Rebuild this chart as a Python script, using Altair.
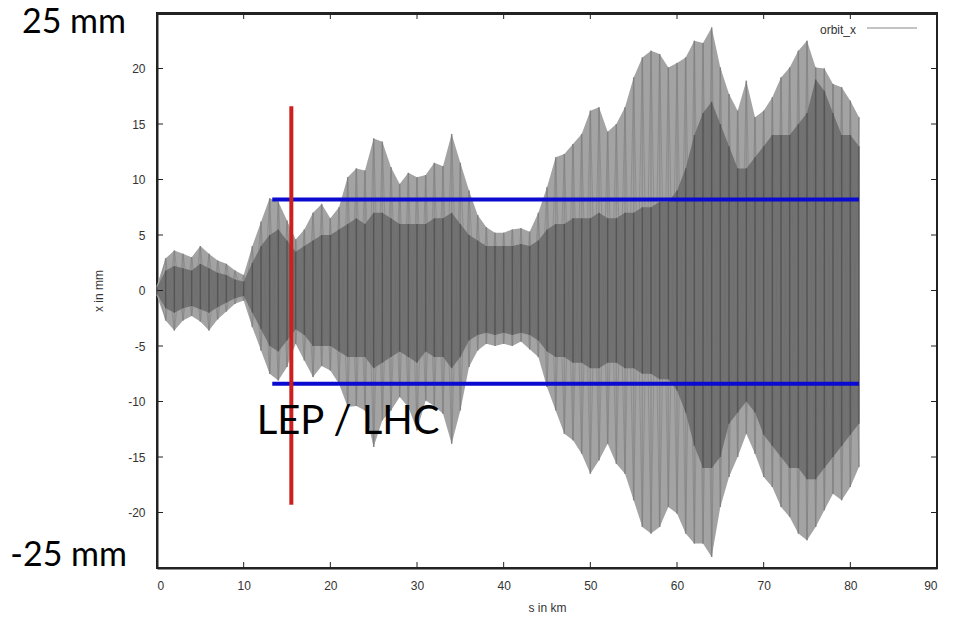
import altair as alt
import pandas as pd

# ---- data ----
s_km = list(range(82))
orbit_hi = [0.5, 2.9, 3.6, 3.3, 3.0, 4.0, 3.3, 2.7, 2.4, 1.8, 1.4,
            4.0, 6.2, 8.3, 8.0, 6.3, 4.6, 5.5, 7.0, 7.8, 6.5,
            7.5, 10.2, 11.0, 10.8, 13.7, 13.4, 11.1, 9.6, 10.6, 10.2,
            10.4, 11.5, 11.2, 14.1, 11.5, 9.0, 6.8, 5.7, 5.2, 5.2,
            5.5, 5.6, 5.3, 7.0, 9.3, 12.0, 12.3, 13.2, 14.1, 16.2,
            16.5, 14.3, 15.0, 16.5, 19.2, 21.0, 21.6, 21.3, 20.1, 20.5,
            21.0, 22.5, 22.3, 23.7, 20.1, 17.7, 16.2, 18.9, 15.6, 16.2,
            17.4, 19.2, 20.1, 21.6, 22.5, 20.1, 20.0, 18.6, 18.3, 17.1, 15.6]
orbit_lo = [-0.5, -2.7, -3.6, -2.7, -2.3, -2.8, -3.6, -2.6, -1.9, -1.2, -0.9,
            -3.3, -5.4, -7.5, -8.1, -6.9, -4.8, -6.3, -7.8, -6.8, -7.2,
            -8.4, -10.5, -10.4, -10.8, -14.1, -11.7, -10.8, -9.6, -10.5, -12.6,
            -9.9, -10.4, -11.1, -13.8, -10.8, -6.9, -5.4, -4.8, -5.0, -4.8,
            -5.0, -4.6, -5.3, -6.0, -8.7, -10.8, -12.9, -13.5, -14.7, -16.5,
            -15.3, -13.8, -15.6, -16.5, -18.9, -21.3, -21.9, -21.3, -19.5, -20.1,
            -21.9, -22.8, -22.8, -24.0, -19.5, -16.8, -15.0, -12.9, -14.7, -16.8,
            -17.7, -19.5, -20.4, -21.9, -22.5, -21.3, -19.8, -18.3, -18.9, -17.7, -15.9]
core_hi = [0.3, 1.8, 2.2, 2.0, 1.8, 2.4, 2.0, 1.6, 1.4, 1.0, 0.8,
           2.5, 4.0, 5.0, 5.5, 4.5, 3.5, 4.0, 4.5, 5.0, 5.0,
           5.5, 6.0, 6.5, 6.0, 7.0, 7.0, 6.5, 6.0, 6.0, 6.0,
           6.0, 6.5, 6.5, 7.0, 6.0, 5.0, 4.5, 4.0, 4.0, 4.0,
           4.0, 4.2, 4.0, 4.5, 5.5, 6.0, 6.0, 6.5, 6.5, 6.5,
           7.0, 6.5, 6.5, 7.0, 7.0, 7.5, 7.5, 8.0, 8.0, 9.0,
           11.0, 14.0, 16.0, 17.0, 15.0, 13.0, 11.0, 11.0, 12.0, 13.0,
           14.0, 14.0, 14.0, 15.0, 16.0, 19.0, 18.0, 16.0, 14.0, 14.0, 13.0]
core_lo = [-0.3, -1.6, -2.0, -1.6, -1.4, -1.7, -2.0, -1.5, -1.1, -0.7, -0.5,
           -2.0, -3.5, -5.0, -5.5, -4.5, -3.5, -4.0, -5.0, -5.0, -5.0,
           -5.5, -6.0, -6.0, -6.0, -7.0, -6.5, -6.0, -5.5, -6.0, -6.5,
           -5.5, -6.0, -6.0, -7.0, -6.0, -4.5, -4.0, -3.8, -4.0, -3.8,
           -4.0, -3.8, -4.0, -4.5, -5.5, -6.0, -6.0, -6.5, -6.5, -7.0,
           -7.0, -6.5, -6.5, -7.0, -7.0, -7.5, -7.5, -8.0, -8.0, -9.0,
           -11.0, -14.0, -16.0, -16.0, -15.0, -12.0, -11.0, -10.0, -11.0, -13.0,
           -14.0, -15.0, -16.0, -16.0, -17.0, -17.0, -16.0, -15.0, -14.0, -13.0, -12.0]

aperture_y = [8.2, -8.4]
aperture_s = [13.3, 81.0]
lep_lhc_s = [15.5]
lep_lhc_y = [16.6, -19.3]

x_ticks = [0, 10, 20, 30, 40, 50, 60, 70, 80, 90]
y_ticks = [-20, -15, -10, -5, 0, 5, 10, 15, 20]

W, H = 780, 555
FRAME = "#222222"

df = pd.DataFrame({"s": s_km, "hi": orbit_hi, "lo": orbit_lo,
                   "chi": core_hi, "clo": core_lo})
zz_rows = []
for k, s in enumerate(s_km):
    a, b = (orbit_hi[k], orbit_lo[k]) if k % 2 == 0 else (orbit_lo[k], orbit_hi[k])
    zz_rows += [{"s": s, "y": a, "g": "a", "o": k}, {"s": s, "y": b, "g": "b", "o": k}]
zz = pd.DataFrame(zz_rows)

xs = alt.Scale(domain=[0, 90], nice=False, zero=False)
ys = alt.Scale(domain=[-25, 25], nice=False, zero=False)

xax = alt.Axis(values=x_ticks, ticks=False, domain=True, domainColor=FRAME, domainWidth=2,
               grid=False, title="s in km",
               labelFont="Liberation Sans", labelFontSize=12, labelColor="#333",
               labelPadding=12, titleFont="Liberation Sans", titleFontSize=12,
               titleFontWeight="normal", titleColor="#333", titlePadding=11,
               labelExpr="'' + datum.value")
yax = alt.Axis(values=y_ticks, ticks=False, domain=True, domainColor=FRAME, domainWidth=2,
               grid=False, title="x in mm",
               labelFont="Liberation Sans", labelFontSize=12, labelColor="#333",
               labelPadding=12, titleFont="Liberation Sans", titleFontSize=12,
               titleFontWeight="normal", titleColor="#333", titlePadding=22,
               labelExpr="'' + datum.value")

base = alt.Chart(df)
outer = base.mark_area(color="#a3a3a3").encode(
    x=alt.X("s:Q", scale=xs, axis=xax),
    y=alt.Y("hi:Q", scale=ys, axis=yax),
    y2="lo:Q")
outer_streak = base.mark_rule(color="#8a8a8a", strokeWidth=1.5, opacity=0.8).encode(
    x=alt.X("s:Q", scale=xs), y=alt.Y("hi:Q", scale=ys), y2="lo:Q")
zig_outer = alt.Chart(zz).mark_line(color="#7c7c7c", strokeWidth=1, opacity=0.5).encode(
    x=alt.X("s:Q", scale=xs), y=alt.Y("y:Q", scale=ys), detail="g:N", order="o:Q")
core = base.mark_area(color="#6a6a6a", opacity=0.85).encode(
    x=alt.X("s:Q", scale=xs), y=alt.Y("chi:Q", scale=ys), y2="clo:Q")
core_streak = base.mark_rule(color="#454545", strokeWidth=1.5, opacity=0.6).encode(
    x=alt.X("s:Q", scale=xs), y=alt.Y("chi:Q", scale=ys), y2="clo:Q")

ap_df = pd.DataFrame({"y": aperture_y, "s0": [aperture_s[0]] * 2, "s1": [aperture_s[1]] * 2})
aperture = alt.Chart(ap_df).mark_rule(color="#0a0ad0", strokeWidth=4).encode(
    x=alt.X("s0:Q", scale=xs), x2="s1:Q", y=alt.Y("y:Q", scale=ys))

red_df = pd.DataFrame({"s": lep_lhc_s, "y0": [lep_lhc_y[0]], "y1": [lep_lhc_y[1]]})
red = alt.Chart(red_df).mark_rule(color="#cc2020", strokeWidth=4).encode(
    x=alt.X("s:Q", scale=xs), y=alt.Y("y0:Q", scale=ys), y2="y1:Q")

lbl_df = pd.DataFrame({"s": [11.5], "y": [-12.9], "t": ["LEP / LHC"]})
lbl = alt.Chart(lbl_df).mark_text(font="Lato", fontSize=40, align="left",
                                  baseline="alphabetic", color="black").encode(
    x=alt.X("s:Q", scale=xs), y=alt.Y("y:Q", scale=ys), text="t:N")

mm_df = pd.DataFrame({"y": [25, -25], "t": ["25 mm", "-25 mm"]})
mm_top = alt.Chart(mm_df.iloc[[0]]).mark_text(font="Lato", fontSize=34, align="right",
                                             baseline="alphabetic", dy=20, color="black").encode(
    x=alt.value(-31), y=alt.Y("y:Q", scale=ys), text="t:N")
mm_bot = alt.Chart(mm_df.iloc[[1]]).mark_text(font="Lato", fontSize=34, align="right",
                                             baseline="alphabetic", dy=-2, color="black").encode(
    x=alt.value(-30), y=alt.Y("y:Q", scale=ys), text="t:N")

leg_text = alt.Chart(pd.DataFrame({"t": ["orbit_x"]})).mark_text(
    font="Liberation Sans", fontSize=12, align="right", baseline="alphabetic", color="#333").encode(
    x=alt.value(699), y=alt.value(21), text="t:N")
leg_line = alt.Chart(pd.DataFrame({"t": ["orbit_x"]})).mark_rule(color="#888", strokeWidth=1).encode(
    x=alt.value(710), x2=alt.value(760), y=alt.value(15))

xt = pd.DataFrame({"v": x_ticks})
yt = pd.DataFrame({"v": y_ticks})
tick_bot = alt.Chart(xt).mark_rule(color=FRAME, strokeWidth=1).encode(
    x=alt.X("v:Q", scale=xs), y=alt.value(H), y2=alt.value(H - 6))
tick_top = alt.Chart(xt).mark_rule(color=FRAME, strokeWidth=1).encode(
    x=alt.X("v:Q", scale=xs), y=alt.Y("top:Q", scale=ys), y2=alt.value(6)).transform_calculate(top="25")
tick_l = alt.Chart(yt).mark_rule(color=FRAME, strokeWidth=1).encode(
    y=alt.Y("v:Q", scale=ys), x=alt.X("left:Q", scale=xs), x2=alt.value(6)).transform_calculate(left="0")
tick_r = alt.Chart(yt).mark_rule(color=FRAME, strokeWidth=1).encode(
    y=alt.Y("v:Q", scale=ys), x=alt.value(W), x2=alt.value(W - 6))

one = pd.DataFrame({"k": [0]})
frame_top = alt.Chart(one).mark_rule(color=FRAME, strokeWidth=2).encode(
    x=alt.value(0), x2=alt.value(W), y=alt.value(1))
frame_right = alt.Chart(one).mark_rule(color=FRAME, strokeWidth=2).encode(
    y=alt.value(0), y2=alt.value(H), x=alt.value(W))

chart = alt.layer(
    outer, outer_streak, zig_outer, core, core_streak, aperture, red, lbl, mm_top, mm_bot,
    leg_text, leg_line, tick_bot, tick_top, tick_l, tick_r, frame_top, frame_right
).properties(
    width=W, height=H,
    background="white",
    autosize=alt.AutoSizeParams(type="none"),
    padding={"left": 157, "top": 13, "right": 16, "bottom": 52},
).configure_view(stroke=FRAME, strokeWidth=2)

chart.save("out.html", embed_options={"renderer": "svg", "actions": False})
